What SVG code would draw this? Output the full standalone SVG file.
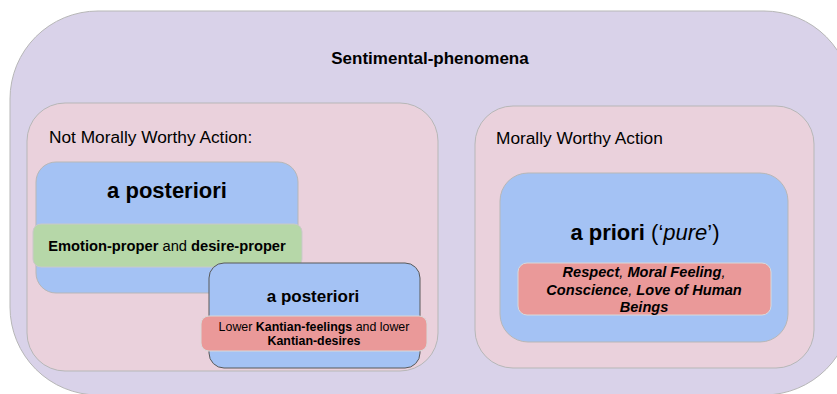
<svg xmlns="http://www.w3.org/2000/svg" width="837" height="394" viewBox="0 0 837 394">
<style>
text{font-family:"Liberation Sans",Arial,sans-serif;fill:#000}
.b{font-weight:bold}
.i{font-style:italic}
.c{text-anchor:middle}
.outer{fill:#d9d2e9;stroke:#b7b7b7;stroke-width:1}
.pink{fill:#ead1dc;stroke:#b7b7b7;stroke-width:1}
.blue{fill:#a4c2f4;stroke:#b7b7b7;stroke-width:1}
.blue2{fill:#a4c2f4;stroke:#595959;stroke-width:1}
.green{fill:#b6d7a8;stroke:#c9c9c9;stroke-width:1}
.red{fill:#ea9999;stroke:#d9d9d9;stroke-width:1}
</style>
<g id="sentimental-phenomena">
<rect class="outer" x="10" y="11" width="842" height="384" rx="88" ry="88"/>
<text class="b c" x="430" y="64" font-size="17">Sentimental-phenomena</text>
</g>
<g id="not-morally-worthy">
<rect class="pink" x="27" y="103" width="411" height="268" rx="38" ry="38"/>
<text x="49" y="143" font-size="17.3">Not Morally Worthy Action:</text>
</g>
<g id="a-posteriori-1">
<rect class="blue" x="36" y="162" width="262" height="131" rx="20" ry="20"/>
<text class="b c" x="167" y="198" font-size="22">a posteriori</text>
</g>
<g id="emotion-proper">
<rect class="green" x="33" y="224" width="269" height="43" rx="8" ry="8"/>
<text class="c" x="167" y="251" font-size="14.7"><tspan class="b">Emotion-proper</tspan> and <tspan class="b">desire-proper</tspan></text>
</g>
<g id="a-posteriori-2">
<rect class="blue2" x="209" y="263" width="211" height="105" rx="15" ry="15"/>
<text class="b c" x="313" y="302" font-size="17">a posteriori</text>
</g>
<g id="kantian-feelings">
<rect class="red" x="201" y="316" width="226" height="35" rx="8" ry="8"/>
<text class="c" x="314" y="331" font-size="12.4">Lower <tspan class="b">Kantian-feelings</tspan> and lower</text>
<text class="b c" x="314" y="345" font-size="12.4">Kantian-desires</text>
</g>
<g id="morally-worthy">
<rect class="pink" x="475" y="106" width="339" height="262" rx="38" ry="38"/>
<text x="496" y="144" font-size="17.3">Morally Worthy Action</text>
</g>
<g id="a-priori">
<rect class="blue" x="500" y="173" width="288" height="169" rx="28" ry="28"/>
<text class="c" x="645" y="240" font-size="22"><tspan class="b">a priori</tspan> (‘<tspan class="i">pure</tspan>’)</text>
</g>
<g id="respect">
<rect class="red" x="518" y="263" width="253" height="52" rx="9" ry="9"/>
<text class="c i" x="644" y="277" font-size="14.6"><tspan class="b">Respect</tspan>, <tspan class="b">Moral Feeling</tspan>,</text>
<text class="c i" x="644" y="295" font-size="14.6"><tspan class="b">Conscience</tspan>, <tspan class="b">Love of Human</tspan></text>
<text class="c i b" x="644" y="312" font-size="14.6">Beings</text>
</g>
<g id="connectors"/>
</svg>
